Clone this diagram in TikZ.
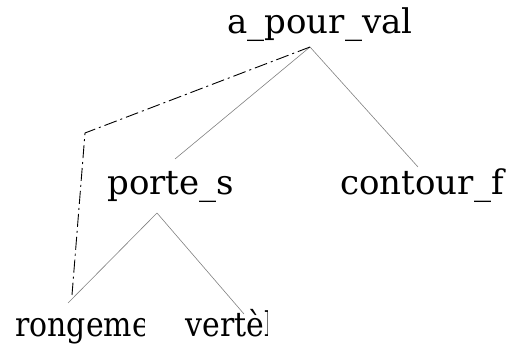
\documentclass[tikz,border=0pt]{standalone}
\usepackage{fontspec}
\setmainfont{DejaVu Serif}
\newfontfamily\narrowserif[FakeStretch=0.88]{DejaVu Serif}
\begin{document}
\begin{tikzpicture}[x=.5pt,y=-.5pt,
  lbl/.style={anchor=base west,inner sep=0pt,font=\fontsize{17}{20}\selectfont},
  leaf/.style={lbl,font=\narrowserif\fontsize{17}{20}\selectfont},
  edge/.style={draw=gray,line width=.3pt},
  trace/.style={draw=black,line width=.45pt,dash pattern=on 6.5pt off 2pt on 1pt off 2pt}]
\useasboundingbox (0,0) rectangle (509,351);
% labels
\node[lbl] (root) at (227,34) {a\_pour\_val};
\node[lbl] (porte) at (107,195) {porte\_s};
\node[lbl] (contour) at (340,195) {contour\_f};
\begin{scope}
\clip (0,300) rectangle (144,351);
\node[leaf] (ronge) at (15,337) {rongeme};
\end{scope}
\begin{scope}
\clip (170,300) rectangle (267,351);
\node[leaf] (verteb) at (185,337) {vertèb};
\end{scope}
% attachment points
\coordinate (root-a) at (310,47);
\coordinate (porte-a) at (157,213);
\coordinate (porte-in) at (175,159);
\coordinate (contour-in) at (418,167);
\coordinate (ronge-in) at (68,303);
\coordinate (verteb-in) at (244,314);
\coordinate (bend) at (85,133);
\coordinate (trace-end) at (72,295);
% tree
\draw[edge] (root-a) -- (porte-in);
\draw[edge] (root-a) -- (contour-in);
\draw[edge] (porte-a) -- (ronge-in);
\draw[edge] (porte-a) -- (verteb-in);
% trace
\draw[trace] (root-a) -- (bend) -- (trace-end);
\end{tikzpicture}
\end{document}
